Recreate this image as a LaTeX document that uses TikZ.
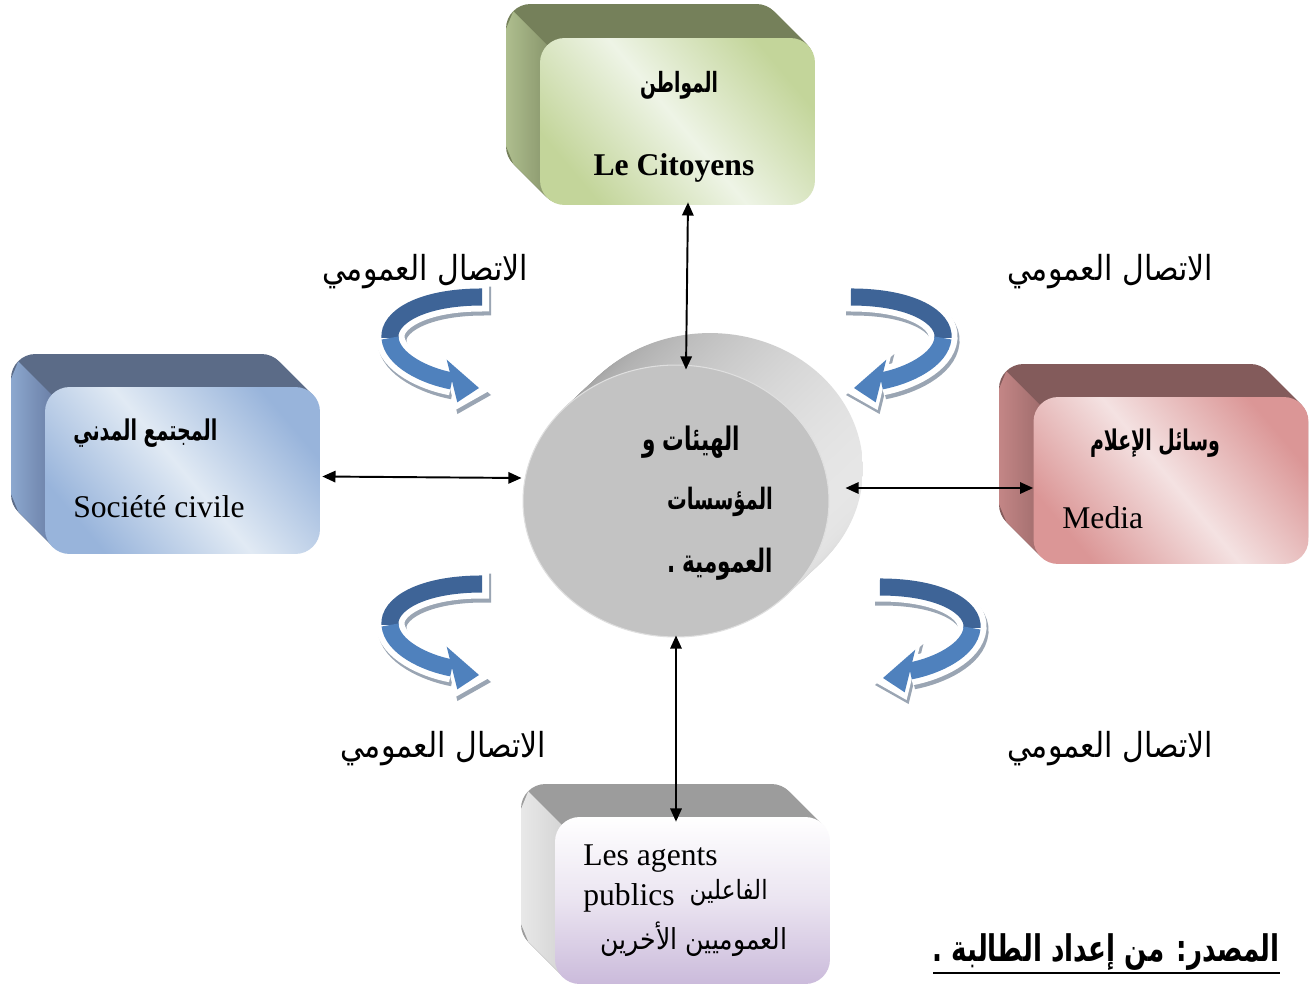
\documentclass[tikz,border=0pt]{standalone}
\usepackage{fontspec}
\usepackage{graphicx}
\setmainfont{Liberation Serif}
\newfontfamily\ar[Script=Arabic]{DejaVu Sans}
\TeXXeTstate=1
\usetikzlibrary{shapes.geometric,arrows.meta,calc}

\definecolor{citTop}{HTML}{75805A}\definecolor{citSL}{HTML}{AEBE8E}\definecolor{citSD}{HTML}{7F8B63}
\definecolor{citMid}{HTML}{EEF4E6}\definecolor{citEdge}{HTML}{C3D59A}
\definecolor{socTop}{HTML}{5B6B87}\definecolor{socSL}{HTML}{8CA8CF}\definecolor{socSD}{HTML}{61739A}
\definecolor{socMid}{HTML}{E1EAF4}\definecolor{socEdge}{HTML}{98B4DB}
\definecolor{medTop}{HTML}{835B5B}\definecolor{medSL}{HTML}{C38686}\definecolor{medSD}{HTML}{966565}
\definecolor{medMid}{HTML}{F4E2E2}\definecolor{medEdge}{HTML}{DB9696}
\definecolor{agtTop}{HTML}{9C9C9C}\definecolor{agtSL}{HTML}{E8E8E8}\definecolor{agtSD}{HTML}{CFCFCF}
\definecolor{agtBot}{HTML}{CBBBDB}
\definecolor{cirDark}{HTML}{9B9B9B}\definecolor{cirLight}{HTML}{E6E6E6}\definecolor{cirFront}{HTML}{C3C3C3}
\definecolor{arrDark}{HTML}{3E6497}\definecolor{arrLight}{HTML}{4F81BD}\definecolor{arrShadow}{HTML}{9AA5B3}

% fit a text to a width (#1) and stretch it vertically by #2
\newcommand\fitw[3]{\scalebox{1}[#2]{\resizebox{#1}{!}{#3}}}

% extrusion of a bevelled box: x1 y1 x2 y2 top sidelight sidedark
\newcommand\extrude[7]{%
  \foreach \k in {34,33,...,1}{\fill[#5,rounded corners=14pt] (#1-\k,#2-\k) rectangle (#3-\k,#4-\k);}
  \shade[left color=#6,right color=#7] (#1-34,#2-9) -- (#1-34,#4-59) -- (#1-26.7,#4-41.3)
     -- (#1+7.3,#4-7.3) -- (#1+20,#4-7) -- (#1+20,#2+20) -- (#1+7.3,#2+7.3) -- (#1-26.7,#2-26.7) -- cycle;
}

% curved blue arrow (upper-left geometry); #1 = shadow x offset
\newcommand\bluearrow[1]{%
  \draw[line width=16.5pt, arrShadow, shift={(#1,4)}] (489,297) -- (482,297) .. controls (420,297) and (388,318) .. (390,338) .. controls (392,360) and (425,376) .. (452,381);
  \fill[arrShadow, shift={(#1,4)}] (440.6,350) -- (489,391) -- (455.4,410) -- cycle;
  \draw[line width=16.5pt, white] (489,297) -- (482,297) .. controls (420,297) and (388,318) .. (390,338) .. controls (392,360) and (425,376) .. (452,381);
  \fill[white] (440.6,350) -- (489,391) -- (455.4,410) -- cycle;
  \draw[line width=9.7pt, arrDark] (479,297) -- (482,297) .. controls (420,297) and (388,318) .. (390,338);
  \draw[line width=9.7pt, arrLight] (390,338) .. controls (392,360) and (425,376) .. (452,381);
  \fill[arrLight] (446.7,359.7) -- (479,388) -- (457.3,402.3) -- cycle;
}

\tikzset{
  face/.style={rounded corners=14pt, minimum width=5.5cm, minimum height=3.34cm, inner sep=0pt},
  link/.style={line width=1.1pt, {Triangle[length=7.5pt,width=6.5pt]}-{Triangle[length=7.5pt,width=6.5pt]}},
  lat/.style={font=\fontsize{18}{20}\selectfont, inner sep=0pt},
  arr/.style={font=\ar, inner sep=0pt},
  arb/.style={font=\ar\bfseries, inner sep=0pt}
}

\begin{document}
\begin{tikzpicture}[x=0.02cm,y=-0.02cm]
\fill[white] (0,0) rectangle (1316,987);
\useasboundingbox (0,0) rectangle (1316,987);

% ---- bevelled boxes ----
\extrude{540}{38}{815}{205}{citTop}{citSL}{citSD}
\node[face, top color=citEdge, bottom color=citEdge, middle color=citMid, shading angle=-50] (cit) at (677.5,121.5) {};
\extrude{45}{388}{320}{553}{socTop}{socSL}{socSD}
\node[face, top color=socEdge, bottom color=socEdge, middle color=socMid, shading angle=-50] (soc) at (182.5,470.5) {};
\extrude{1033}{398}{1309}{563}{medTop}{medSL}{medSD}
\node[face, top color=medEdge, bottom color=medEdge, middle color=medMid, shading angle=-50] (med) at (1171,480.5) {};
\extrude{555}{818}{830}{983}{agtTop}{agtSL}{agtSD}
\node[face, top color=white, bottom color=agtBot, middle color=white!60!agtBot] (agt) at (692.5,900.5) {};

% ---- central cylinder ----
\foreach \k in {34,33,...,1}{\shade[left color=cirDark,right color=cirLight] (676+\k,501-0.94*\k) ellipse [x radius=3.06cm, y radius=2.72cm];}
\node[ellipse, minimum width=6.12cm, minimum height=5.44cm, inner sep=0pt, fill=cirFront, draw=gray!25, line width=0.6pt] (inst) at (676,501) {};

% ---- curved blue arrows ----
\bluearrow{2}
\begin{scope}[shift={(0,287)}]\bluearrow{2}\end{scope}
\begin{scope}[shift={(1333,0)},xscale=-1]\bluearrow{-2}\end{scope}
\begin{scope}[shift={(1362,290)},xscale=-1]\bluearrow{-2}\end{scope}

% ---- connectors ----
\draw[link] ($(cit.south)+(10.5,-3)$) -- ($(inst.north)+(10,5)$);
\draw[link] ($(soc.east)+(2,6)$) -- ($(inst.west)+(-1,-23)$);
\draw[link] ($(inst.east)+(16,-13)$) -- ($(med.west)+(0,7.5)$);
\draw[link] ($(inst.south)+(0,-2)$) -- ($(agt.north -| inst.south)+(0,5)$);

% ---- texts ----
\node[arb] (t1) at (679,85) {\fitw{1.56cm}{1.5}{\beginR المواطن\endR}};
\node[lat, font=\fontsize{18}{20}\selectfont\bfseries, anchor=base] (t2) at (674,175) {Le Citoyens};
\node[arb, anchor=west] (t3) at (73,433) {\fitw{2.88cm}{1.5}{\beginR المجتمع المدني\endR}};
\node[lat, anchor=base west] (t4) at (73,517) {Société civile};
\node[arb] (t5) at (1155,443) {\fitw{2.6cm}{1.5}{\beginR وسائل الإعلام\endR}};
\node[lat, anchor=base west] (t6) at (1062,528) {Media};
\node[lat, anchor=base west] (t7) at (583,865) {Les agents};
\node[lat, anchor=base west] (t8) at (583,905) {publics};
\node[arr, anchor=east] (t9) at (768,893) {\fitw{1.56cm}{1.15}{\beginR الفاعلين\endR}};
\node[arr, anchor=east] (t10) at (788,939) {\fitw{3.74cm}{1.15}{\beginR العموميين الأخرين\endR}};

\node[arb] (c1) at (691,442) {\fitw{1.96cm}{1.5}{\beginR الهيئات و\endR}};
\node[arb] (c2) at (720,502) {\fitw{2.12cm}{1.5}{\beginR المؤسسات\endR}};
\node[arb] (c3) at (720,564) {\fitw{2.12cm}{1.5}{\beginR العمومية .\endR}};

\node[arr] (l1) at (425,272) {\fitw{4.12cm}{1.15}{\beginR الاتصال العمومي\endR}};
\node[arr] (l2) at (1110,272) {\fitw{4.12cm}{1.15}{\beginR الاتصال العمومي\endR}};
\node[arr] (l3) at (443,749) {\fitw{4.12cm}{1.15}{\beginR الاتصال العمومي\endR}};
\node[arr] (l4) at (1110,749) {\fitw{4.12cm}{1.15}{\beginR الاتصال العمومي\endR}};

\node[arb] (src) at (1106,952) {\fitw{6.94cm}{1.4}{\beginR المصدر: من إعداد الطالبة .\endR}};
\coordinate (u1) at (933,973);
\coordinate (u2) at (1280,973);
\draw[line width=1.6pt] (u1) -- (u2);
\end{tikzpicture}
\end{document}
